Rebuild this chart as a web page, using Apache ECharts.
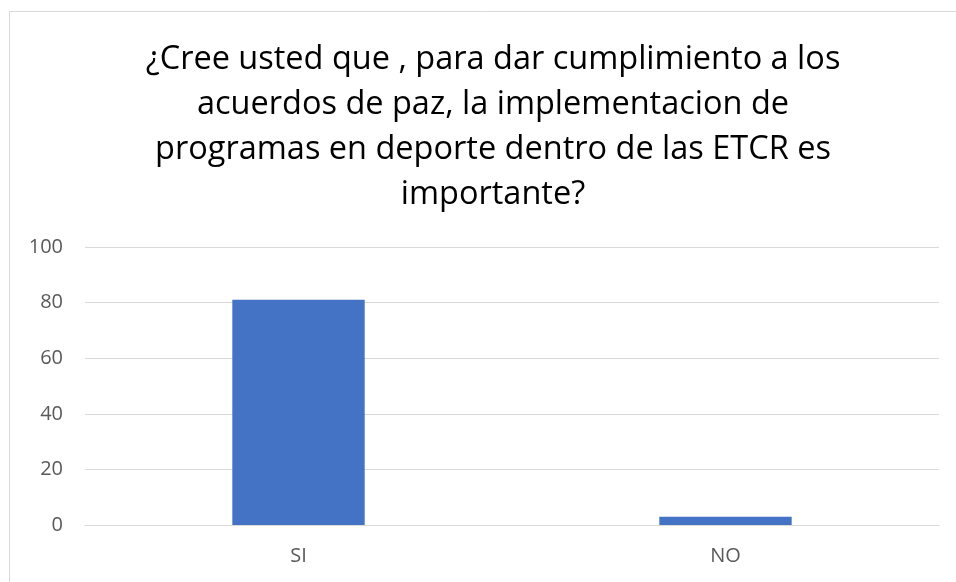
<!DOCTYPE html>
<html><head><meta charset="utf-8">
<script src="https://cdn.jsdelivr.net/npm/echarts@6/dist/echarts.min.js"></script>
<style>html,body{margin:0;padding:0;background:#fff}#c{width:956px;height:582px}</style>
</head><body><div id="c"></div>
<script>
const titleText = "¿Cree usted que , para dar cumplimiento a los\nacuerdos de paz, la implementacion de\nprogramas en deporte dentro de las ETCR es\nimportante?";
const categories = ["SI", "NO"];
const values = [81, 3];
const yTicks = [0, 20, 40, 60, 80, 100];

const chart = echarts.init(document.getElementById('c'), null, {renderer: 'canvas'});
chart.setOption({
  backgroundColor: '#fff',
  animation: false,
  graphic: [{
    type: 'rect', z: -1,
    shape: {x: 9.5, y: 11.5, width: 1000, height: 1000},
    style: {fill: '#fff', stroke: '#d9d9d9', lineWidth: 1}
  }],
  title: {
    text: titleText,
    left: 488, top: 32, textAlign: 'center',
    textStyle: {fontFamily: 'Open Sans', fontSize: 32.5, fontWeight: 'normal', color: '#000', lineHeight: 45}
  },
  grid: {left: 85, right: 17, top: 247, bottom: 57, containLabel: false},
  xAxis: {
    type: 'category', data: categories,
    axisLine: {lineStyle: {color: '#d9d9d9', width: 1}},
    axisTick: {show: false},
    axisLabel: {color: '#595959', fontFamily: 'Open Sans', fontSize: 20, margin: 21}
  },
  yAxis: {
    type: 'value', min: yTicks[0], max: yTicks[yTicks.length-1], interval: 20,
    axisLine: {show: false}, axisTick: {show: false},
    splitLine: {lineStyle: {color: '#d9d9d9', width: 1}},
    axisLabel: {color: '#595959', fontFamily: 'Open Sans', fontSize: 20, margin: 22}
  },
  series: [{
    type: 'bar', data: values, barWidth: '31%',
    itemStyle: {color: '#4472c4'}
  }]
});
</script></body></html>
